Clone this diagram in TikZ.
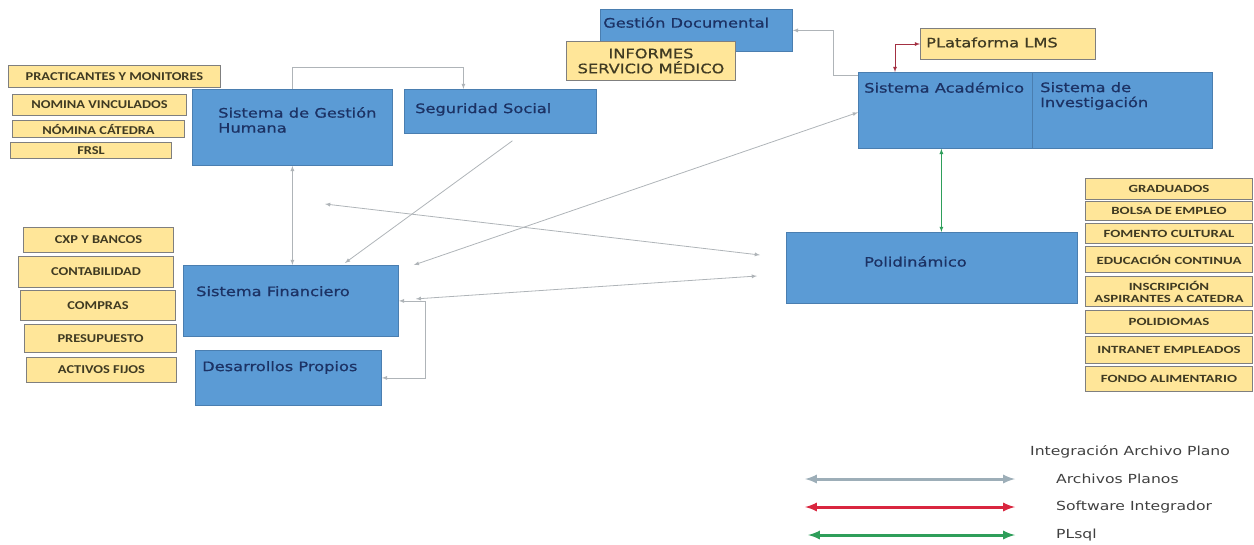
\documentclass[tikz,border=0pt]{standalone}
\usepackage{fontspec}
\usepackage{tikz}
\usetikzlibrary{calc,positioning,arrows}
\newfontfamily\boxfont[FakeStretch=1.25,FakeBold=0.8]{DejaVu Sans}
\newfontfamily\legendfont[FakeStretch=1.25]{DejaVu Sans}
\newfontfamily\tagfont[FakeStretch=1.2]{Carlito}
\newfontfamily\tagfontwide[FakeStretch=1.35]{Carlito}
\definecolor{sgblue}{HTML}{5B9BD5}
\definecolor{sgblueborder}{HTML}{4A7EB0}
\definecolor{sgnavy}{HTML}{1C3264}
\definecolor{sgyellow}{HTML}{FFE699}
\definecolor{sgtagborder}{HTML}{7F7F7F}
\definecolor{sgtagtext}{HTML}{3F3A22}
\definecolor{sggray}{HTML}{AFB4B8}
\definecolor{sglegendgray}{HTML}{9DAEB8}
\definecolor{sgred}{HTML}{D9263F}
\definecolor{sgdarkred}{HTML}{A33042}
\definecolor{sggreen}{HTML}{2E9E5A}
\tikzset{
	sg_base/.style={font=\boxfont\fontsize{13}{15}\selectfont},
	sg_size/.style 2 args={minimum width=#1pt, minimum height=#2pt},
	sg_block/.style={draw=sgblueborder, fill=sgblue, line width=0.8pt, rectangle, anchor=north west, inner sep=0pt},
	sg_text/.style={sg_base, text=sgnavy, anchor=north west, inner sep=0pt, align=left},
	sg_tag/.style={draw=sgtagborder, fill=sgyellow, line width=1pt, anchor=north west, inner sep=0pt, align=center, text=sgtagtext, font=\tagfont\bfseries\fontsize{12}{13}\selectfont},
	sg_tagwide/.style={sg_tag, font=\tagfontwide\bfseries\fontsize{11}{12}\selectfont},
	sg_line/.style={draw=sggray, line width=0.8pt, -latex},
	sg_dline/.style={sg_line, latex-latex},
	sg_redline/.style={draw=sgdarkred, line width=0.8pt, latex-latex},
	sg_greenline/.style={draw=sggreen, line width=0.8pt, latex-latex},
	sg_legend/.style={line width=3pt, latex-latex},
	sg_legendtext/.style={font=\legendfont\fontsize{12.5}{15}\selectfont, text=black!75, anchor=west, inner sep=0pt}
}
\begin{document}
\begin{tikzpicture}[x=1pt,y=-1pt]
	\useasboundingbox (0,0) rectangle (1254,544);

	% main systems
	\node[sg_block, sg_size={200}{76}, label={[sg_text, xshift=26pt, yshift=-18pt]north west:Sistema de Gestión\\Humana}] (gh) at (192,89) {};
	\node[sg_block, sg_size={192}{44}, label={[sg_text, xshift=11pt, yshift=-14pt]north west:Seguridad Social}] (ss) at (404,89) {};
	\node[sg_block, sg_size={192}{42}, label={[sg_text, xshift=3pt, yshift=-8pt]north west:Gestión Documental}] (gd) at (600,9) {};
	\node[sg_block, sg_size={174}{76}, label={[sg_text, xshift=6pt, yshift=-10pt]north west:Sistema Académico}] (sa) at (858,72) {};
	\node[sg_block, sg_size={180}{76}, label={[sg_text, xshift=8pt, yshift=-10pt]north west:Sistema de\\Investigación}] (si) at (1032,72) {};
	\node[sg_block, sg_size={291}{71}, label={[sg_text, xshift=78pt, yshift=-24pt]north west:Polidinámico}] (poli) at (786,232) {};
	\node[sg_block, sg_size={215}{71}, label={[sg_text, xshift=13pt, yshift=-21pt]north west:Sistema Financiero}] (sf) at (183,265) {};
	\node[sg_block, sg_size={186}{55}, label={[sg_text, xshift=7pt, yshift=-11pt]north west:Desarrollos Propios}] (dp) at (195,350) {};

	% modules
	\node[sg_tag, sg_size={169}{39}, sg_base] (inf) at (566,41) {INFORMES\\SERVICIO MÉDICO};
	\node[sg_tag, sg_size={175}{31}, label={[sg_base, text=sgtagtext, anchor=west, inner sep=0pt, xshift=6pt, yshift=1.5pt]west:PLataforma LMS}] (lms) at (920,28) {};
	\foreach \nm/\xa/\ya/\xb/\yb/\txt in {pm/8/65/220/87/PRACTICANTES Y MONITORES,%
		nv/12/94/186/115/NOMINA VINCULADOS,%
		nc/12/120/184/137/NÓMINA CÁTEDRA,%
		fr/10/142/171/158/FRSL,%
		cxp/23/227/173/252/CXP Y BANCOS,%
		cont/18/256/173/287/CONTABILIDAD,%
		comp/20/290/175/320/COMPRAS,%
		pres/24/324/176/352/PRESUPUESTO,%
		act/26/357/176/382/ACTIVOS FIJOS}
		\node[sg_tag, minimum width={(\xb-\xa)*1pt}, minimum height={(\yb-\ya)*1pt}] (\nm) at (\xa,\ya) {\txt};
	\foreach \nm/\ya/\yb/\txt in {grad/178/199/GRADUADOS,%
		bolsa/201/220/BOLSA DE EMPLEO,%
		fom/223/243/FOMENTO CULTURAL,%
		edu/246/272/EDUCACIÓN CONTINUA,%
		insc/276/306/INSCRIPCIÓN\\ASPIRANTES A CATEDRA,%
		polid/310/333/POLIDIOMAS,%
		intra/336/363/INTRANET EMPLEADOS,%
		fondo/366/391/FONDO ALIMENTARIO}
		\node[sg_tagwide, minimum width=167pt, minimum height={(\yb-\ya)*1pt}] (\nm) at (1085,\ya) {\txt};

	% connectors
	\coordinate (hrx) at (325,204);
	\coordinate (polx) at (760,255);
	\coordinate (poly) at (757,276);
	\draw[sg_line] (gh.north) -- ++(0,-22) -| ([xshift=-37pt]ss.north);
	\draw[sg_dline] (gh.south) -- (gh.south |- sf.north);
	\draw[sg_line] ([shift={(12pt,-7pt)}]ss.south) -- ([shift={(54pt,2pt)}]sf.north);
	\draw[sg_dline] (hrx) -- (polx);
	\draw[sg_dline] ([yshift=-2pt]sa.west) -- ([xshift=15pt]sf.north east);
	\draw[sg_dline] (sf.east) -- ++(27,0) |- (dp.east);
	\draw[sg_dline] (poly) -- ([shift={(17pt,2pt)}]sf.east);
	\draw[sg_line] ([yshift=-3pt]sa.north west) -- ++(-25,0) |- (gd.east);
	\draw[sg_redline] ([xshift=37pt]sa.north west) |- (lms.west);
	\draw[sg_greenline] ([xshift=-4pt]sa.south) -- ([xshift=-4pt]sa.south |- poli.north);

	% legend
	\node[sg_legendtext] (lgtitle) at (1030,452) {Integración Archivo Plano};
	\node[sg_legendtext] (lgplain) at (1056,479) {Archivos Planos};
	\node[sg_legendtext] (lgsoft) at (1056,507) {Software Integrador};
	\node[sg_legendtext] (lgpl) at (1056,535) {PLsql};
	\draw[sg_legend, draw=sglegendgray] ([xshift=-251pt]lgplain.west) -- ([xshift=-41pt]lgplain.west);
	\draw[sg_legend, draw=sgred] ([xshift=-251pt]lgsoft.west) -- ([xshift=-41pt]lgsoft.west);
	\draw[sg_legend, draw=sggreen] ([xshift=-248pt]lgpl.west) -- ([xshift=-41pt]lgpl.west);
\end{tikzpicture}
\end{document}
